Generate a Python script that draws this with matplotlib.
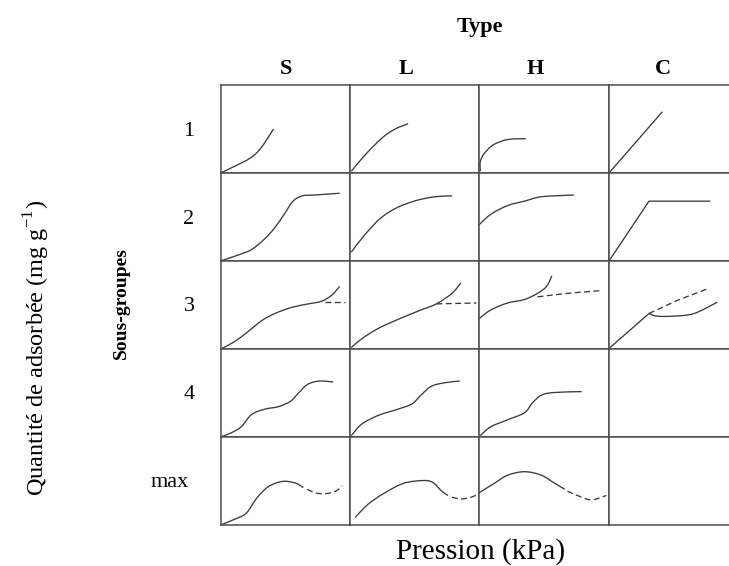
import matplotlib.pyplot as plt
from matplotlib.path import Path
from matplotlib.patches import PathPatch

plt.rcParams['font.family'] = ['Liberation Serif', 'DejaVu Serif']

types = ['S', 'L', 'H', 'C']
subgroups = ['1', '2', '3', '4', 'max']

# isotherm sketches in cell units (0..1)
S1_x = [0, 0.10, 0.23, 0.31, 0.41]
S1_y = [0, 0.07, 0.17, 0.28, 0.50]
L1_x = [0.01, 0.12, 0.25, 0.35, 0.45]
L1_y = [0.02, 0.21, 0.40, 0.50, 0.56]
H1_x = [0.01, 0.01, 0.04, 0.11, 0.22, 0.36]
H1_y = [0.02, 0.13, 0.22, 0.32, 0.38, 0.39]
C1_x = [0, 0.41]
C1_y = [0, 0.69]

S2_x = [0, 0.02, 0.14, 0.24, 0.34, 0.42, 0.50, 0.56, 0.63, 0.73, 0.92]
S2_y = [0, 0.01, 0.07, 0.13, 0.25, 0.38, 0.55, 0.68, 0.74, 0.75, 0.77]
L2_x = [0.01, 0.11, 0.24, 0.37, 0.52, 0.66, 0.79]
L2_y = [0.10, 0.29, 0.49, 0.61, 0.69, 0.73, 0.74]
H2_x = [0, 0.09, 0.22, 0.35, 0.48, 0.73]
H2_y = [0.41, 0.53, 0.63, 0.68, 0.73, 0.75]
C2_x = [0, 0.31, 0.78]
C2_y = [0, 0.68, 0.68]

S3_x = [0.01, 0.11, 0.21, 0.32, 0.42, 0.55, 0.68, 0.78, 0.86, 0.92]
S3_y = [0, 0.08, 0.19, 0.32, 0.40, 0.47, 0.51, 0.54, 0.61, 0.71]
S3d_x = [0.81, 0.96]
S3d_y = [0.53, 0.53]
L3_x = [0.01, 0.09, 0.22, 0.40, 0.55, 0.67, 0.79, 0.86]
L3_y = [0.01, 0.11, 0.23, 0.35, 0.44, 0.51, 0.63, 0.75]
L3d_x = [0.67, 0.98]
L3d_y = [0.51, 0.52]
H3_x = [0, 0.09, 0.22, 0.35, 0.45, 0.52, 0.56]
H3_y = [0.34, 0.44, 0.52, 0.56, 0.63, 0.71, 0.83]
H3d_x = [0.45, 0.68, 0.93]
H3d_y = [0.59, 0.63, 0.66]
C3_x = [0, 0.31]
C3_y = [0, 0.40]
C3b_x = [0.31, 0.37, 0.50, 0.66, 0.84]
C3b_y = [0.40, 0.37, 0.37, 0.40, 0.53]
C3d_x = [0.31, 0.53, 0.76]
C3d_y = [0.40, 0.55, 0.68]

S4_x = [0.01, 0.08, 0.16, 0.24, 0.34, 0.45, 0.54, 0.60, 0.67, 0.76, 0.87]
S4_y = [0, 0.04, 0.11, 0.25, 0.31, 0.34, 0.40, 0.49, 0.59, 0.63, 0.62]
L4_x = [0.01, 0.09, 0.22, 0.37, 0.48, 0.55, 0.63, 0.73, 0.85]
L4_y = [0.01, 0.14, 0.24, 0.31, 0.37, 0.47, 0.57, 0.61, 0.63]
H4_x = [0.01, 0.09, 0.22, 0.35, 0.41, 0.48, 0.58, 0.79]
H4_y = [0.01, 0.11, 0.19, 0.27, 0.38, 0.47, 0.50, 0.51]

S5_x = [0.01, 0.11, 0.20, 0.28, 0.37, 0.48, 0.58, 0.64]
S5_y = [0, 0.06, 0.13, 0.30, 0.43, 0.49, 0.47, 0.42]
S5d_x = [0.67, 0.73, 0.81, 0.89, 0.94]
S5d_y = [0.40, 0.36, 0.35, 0.38, 0.44]
L5_x = [0.04, 0.14, 0.27, 0.42, 0.58, 0.65, 0.71, 0.76]
L5_y = [0.08, 0.23, 0.36, 0.47, 0.50, 0.47, 0.38, 0.33]
L5d_x = [0.79, 0.86, 0.94, 1.0]
L5d_y = [0.31, 0.29, 0.31, 0.35]
H5_x = [0, 0.12, 0.22, 0.35, 0.48, 0.58, 0.66]
H5_y = [0.36, 0.47, 0.56, 0.60, 0.56, 0.47, 0.40]
H5d_x = [0.68, 0.79, 0.87, 0.98]
H5d_y = [0.38, 0.31, 0.28, 0.33]

# (row, col) -> list of (x, y, dashed, smooth)
cells = {
    (0, 0): [(S1_x, S1_y, False, True)], (0, 1): [(L1_x, L1_y, False, True)],
    (0, 2): [(H1_x, H1_y, False, True)], (0, 3): [(C1_x, C1_y, False, False)],
    (1, 0): [(S2_x, S2_y, False, True)], (1, 1): [(L2_x, L2_y, False, True)],
    (1, 2): [(H2_x, H2_y, False, True)], (1, 3): [(C2_x, C2_y, False, False)],
    (2, 0): [(S3_x, S3_y, False, True), (S3d_x, S3d_y, True, False)],
    (2, 1): [(L3_x, L3_y, False, True), (L3d_x, L3d_y, True, False)],
    (2, 2): [(H3_x, H3_y, False, True), (H3d_x, H3d_y, True, True)],
    (2, 3): [(C3_x, C3_y, False, False), (C3b_x, C3b_y, False, True),
             (C3d_x, C3d_y, True, False)],
    (3, 0): [(S4_x, S4_y, False, True)], (3, 1): [(L4_x, L4_y, False, True)],
    (3, 2): [(H4_x, H4_y, False, True)], (3, 3): [],
    (4, 0): [(S5_x, S5_y, False, True), (S5d_x, S5d_y, True, True)],
    (4, 1): [(L5_x, L5_y, False, True), (L5d_x, L5d_y, True, True)],
    (4, 2): [(H5_x, H5_y, False, True), (H5d_x, H5d_y, True, True)],
    (4, 3): [],
}


def smooth_path(xs, ys):
    # Catmull-Rom through the read points, drawn as cubic Beziers
    pts = list(zip(xs, ys))
    verts = [pts[0]]
    codes = [Path.MOVETO]
    n = len(pts)
    for i in range(n - 1):
        p0 = pts[max(i - 1, 0)]
        p1 = pts[i]
        p2 = pts[i + 1]
        p3 = pts[min(i + 2, n - 1)]
        c1 = (p1[0] + (p2[0] - p0[0]) / 6, p1[1] + (p2[1] - p0[1]) / 6)
        c2 = (p2[0] - (p3[0] - p1[0]) / 6, p2[1] - (p3[1] - p1[1]) / 6)
        verts += [c1, c2, p2]
        codes += [Path.CURVE4] * 3
    return Path(verts, codes)


W, H = 729, 566
col_edges = [220.5, 350, 479, 609, 738]
row_edges = [85, 173, 261, 348.5, 436.5, 524.5]
line_col = '#3a3a3a'

fig = plt.figure(figsize=(W / 100, H / 100), dpi=100)

for (r, c), curves in cells.items():
    x0, x1 = col_edges[c], col_edges[c + 1]
    y0, y1 = row_edges[r], row_edges[r + 1]
    ax = fig.add_axes([x0 / W, 1 - y1 / H, (x1 - x0) / W, (y1 - y0) / H])
    ax.set_xlim(0, 1)
    ax.set_ylim(0, 1)
    ax.set_xticks([])
    ax.set_yticks([])
    for s in ax.spines.values():
        s.set_color('#4d4d4d')
        s.set_linewidth(1.1)
    for xs, ys, dashed, smooth in curves:
        ls = (0, (4.5, 2.6)) if dashed else '-'
        if smooth:
            ax.add_patch(PathPatch(smooth_path(xs, ys), fill=False, edgecolor=line_col,
                                   lw=0.95, linestyle=ls, clip_on=False))
        else:
            ax.plot(xs, ys, color=line_col, lw=0.95, linestyle=ls, clip_on=False)

# headers
fig.text(480 / W, 1 - 32 / H, 'Type', ha='center', va='baseline', fontsize=16, fontweight='bold')
for t, cx in zip(types, [286, 406, 535, 663]):
    fig.text(cx / W, 1 - 74 / H, t, ha='center', va='baseline', fontsize=16, fontweight='bold')

for i, g in enumerate(subgroups):
    cy = (row_edges[i] + row_edges[i + 1]) / 2 + 2
    cx = 170 if g == 'max' else 189
    fig.text(cx / W, 1 - cy / H, g, ha='center', va='center', fontsize=16)

fig.text(121 / W, 1 - 303 / H, 'Sous-groupes', rotation=90, ha='center', va='center',
         fontsize=14, fontweight='bold')
fig.text(37 / W, 1 - 348 / H, 'Quantité de adsorbée (mg g$^{\\mathregular{-1}}$)', rotation=90,
         ha='center', va='center', fontsize=17.5)
fig.text(481 / W, 1 - 559 / H, 'Pression (kPa)', ha='center', va='baseline', fontsize=21)

fig.savefig('out.png', dpi=100)
